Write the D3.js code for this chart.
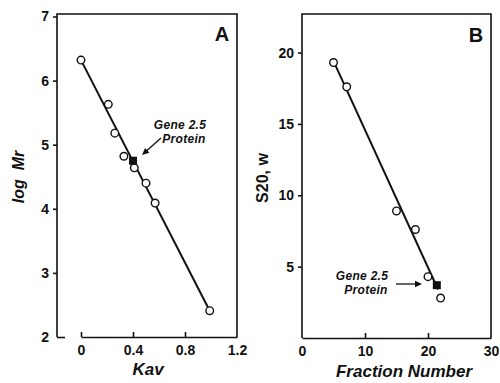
<!DOCTYPE html>
<html>
<head>
<meta charset="utf-8">
<script src="https://cdn.jsdelivr.net/npm/d3@7"></script>
<style>
  body { margin: 0; background: #fff; }
  svg { display: block; }
  text { font-family: "Liberation Sans", Arial, sans-serif; fill: #111; }
</style>
</head>
<body>
<div id="chart"></div>
<script>
// Panel A: gel filtration, log Mr vs Kav
const kavStandards = [0, 0.21, 0.26, 0.33, 0.41, 0.50, 0.57, 0.99];
const logMrStandards = [6.32, 5.63, 5.18, 4.82, 4.64, 4.40, 4.09, 2.41];
const kavProtein = [0.40];
const logMrProtein = [4.75];
const kavFit = [0, 0.99];
const logMrFit = [6.32, 2.41];
const kavTicks = [0, 0.4, 0.8, 1.2];
const kavTickLabels = ['0', '0.4', '0.8', '1.2'];
const logMrTicks = [2, 3, 4, 5, 6, 7];

// Panel B: sedimentation, S20,w vs fraction number
const fractionStandards = [5.0, 7.1, 15.0, 18.0, 20.0, 22.0];
const s20Standards = [19.3, 17.6, 8.9, 7.6, 4.3, 2.8];
const fractionProtein = [21.4];
const s20Protein = [3.7];
const fractionFit = [5.0, 21.6];
const s20Fit = [19.4, 3.4];
const fractionTicks = [0, 10, 20, 30];
const fractionTickLabels = ['0', '10', '20', '30'];
const s20Ticks = [5, 10, 15, 20];

const W = 500, H = 383;
const INK = '#111';

const svg = d3.select('#chart').append('svg')
  .attr('width', W)
  .attr('height', H);

function drawPanel(o) {
  let g = svg.append('g');
  let x = d3.scaleLinear().domain(o.xDomain).range(o.xRange);
  let y = d3.scaleLinear().domain(o.yDomain).range(o.yRange);

  // frame: left, top, right
  g.append('path')
    .attr('d', 'M' + o.box.left + ',' + o.box.bottom + 'V' + o.box.top + 'H' + o.box.right + 'V' + o.box.bottom)
    .attr('fill', 'none')
    .attr('stroke', INK)
    .attr('stroke-width', 1.6);

  // y axis ticks (outward)
  let yAxis = d3.axisLeft(y).tickValues(o.yTicks).tickSize(4).tickSizeOuter(0).tickPadding(4)
    .tickFormat(d3.format('d'));
  let ya = g.append('g')
    .attr('transform', 'translate(' + o.box.left + ',0)')
    .call(yAxis);
  ya.select('.domain').remove();
  ya.selectAll('line').attr('stroke', INK).attr('stroke-width', 1.6);
  ya.selectAll('text')
    .style('font-size', '14px')
    .style('font-weight', 'bold')
    .attr('fill', INK);
  if (o.innerStub != null) {
    ya.selectAll('.tick').filter(d => d === o.innerStub).select('line')
      .attr('x2', 8);
  }

  // x axis (ticks inward)
  let xAxis = d3.axisBottom(x).tickValues(o.xTicks).tickSize(-5).tickSizeOuter(0).tickPadding(8)
    .tickFormat((d, i) => o.xLabels[i]);
  let xa = g.append('g')
    .attr('transform', 'translate(0,' + o.box.bottom + ')')
    .call(xAxis);
  xa.select('.domain').attr('stroke', INK).attr('stroke-width', 1.6);
  xa.selectAll('line').attr('stroke', INK).attr('stroke-width', 1.6);
  xa.selectAll('.tick').filter(d => d === o.xTicks[o.xTicks.length - 1] || (o.hideFirstTick && d === o.xTicks[0]))
    .select('line').remove();
  xa.selectAll('text')
    .style('font-size', '14px')
    .style('font-weight', 'bold')
    .attr('fill', INK);

  // fitted line
  let line = d3.line().x(d => x(d[0])).y(d => y(d[1]));
  g.append('path')
    .datum(d3.zip(o.fitX, o.fitY))
    .attr('d', line)
    .attr('fill', 'none')
    .attr('stroke', INK)
    .attr('stroke-width', 2);

  // standards: open circles
  g.selectAll('.std')
    .data(d3.zip(o.ptsX, o.ptsY))
    .enter().append('circle')
    .attr('class', 'std')
    .attr('cx', d => x(d[0]))
    .attr('cy', d => y(d[1]))
    .attr('r', 3.8)
    .attr('fill', '#fff')
    .attr('stroke', INK)
    .attr('stroke-width', 1.4);

  // protein: filled square
  g.selectAll('.prot')
    .data(d3.zip(o.protX, o.protY))
    .enter().append('rect')
    .attr('class', 'prot')
    .attr('x', d => x(d[0]) - 4)
    .attr('y', d => y(d[1]) - 4)
    .attr('width', 8)
    .attr('height', 8)
    .attr('fill', INK);

  // panel letter
  g.append('text')
    .attr('x', o.letter[0]).attr('y', o.letter[1])
    .attr('text-anchor', 'middle')
    .style('font-size', '20px')
    .style('font-weight', 'bold')
    .text(o.letter[2]);

  // axis titles
  g.append('text')
    .attr('x', o.xTitle[0]).attr('y', o.xTitle[1])
    .attr('text-anchor', 'middle')
    .style('font-size', '17px')
    .style('font-style', 'italic')
    .style('font-weight', 'bold')
    .text(o.xTitle[2]);

  g.append('text')
    .attr('transform', 'translate(' + o.yTitle[0] + ',' + o.yTitle[1] + ') rotate(-90)')
    .attr('text-anchor', 'middle')
    .style('font-size', '16px')
    .style('font-style', o.yTitle[3])
    .style('font-weight', 'bold')
    .style('white-space', 'pre')
    .text(o.yTitle[2]);

  // annotation
  let a = g.append('text')
    .attr('text-anchor', 'middle')
    .style('font-size', '12px')
    .style('font-style', 'italic')
    .style('font-weight', 'bold')
    .style('letter-spacing', '0.3px');
  a.append('tspan').attr('x', o.note[0]).attr('y', o.note[1]).text('Gene 2.5');
  a.append('tspan').attr('x', o.note[0] + 4).attr('y', o.note[1] + 14).text('Protein');

  let ar = o.arrow;
  let ang = Math.atan2(ar[3] - ar[1], ar[2] - ar[0]);
  g.append('line')
    .attr('x1', ar[0]).attr('y1', ar[1])
    .attr('x2', ar[2] - 4 * Math.cos(ang)).attr('y2', ar[3] - 4 * Math.sin(ang))
    .attr('stroke', INK).attr('stroke-width', 1.3);
  let hl = 7, hw = 3.2;
  let bx = ar[2] - hl * Math.cos(ang), by = ar[3] - hl * Math.sin(ang);
  g.append('path')
    .attr('d', 'M' + ar[2] + ',' + ar[3] +
      'L' + (bx - hw * Math.sin(ang)) + ',' + (by + hw * Math.cos(ang)) +
      'L' + (bx + hw * Math.sin(ang)) + ',' + (by - hw * Math.cos(ang)) + 'Z')
    .attr('fill', INK);
}

drawPanel({
  xDomain: [0, 1.2], xRange: [81, 237],
  yDomain: [2, 7], yRange: [337, 16.5],
  box: {left: 57, top: 14, right: 237, bottom: 337},
  xTicks: kavTicks, xLabels: kavTickLabels, yTicks: logMrTicks,
  innerStub: 2, hideFirstTick: false,
  fitX: kavFit, fitY: logMrFit,
  ptsX: kavStandards, ptsY: logMrStandards,
  protX: kavProtein, protY: logMrProtein,
  letter: [222, 41, 'A'],
  xTitle: [148, 375, 'Kav'],
  yTitle: [24, 177, 'log  Mr', 'italic'],
  note: [180, 129],
  arrow: [161, 138, 142, 155]
});

drawPanel({
  xDomain: [0, 30], xRange: [302, 491],
  yDomain: [0, 22.7], yRange: [338, 14],
  box: {left: 302, top: 14, right: 491, bottom: 338},
  xTicks: fractionTicks, xLabels: fractionTickLabels, yTicks: s20Ticks,
  innerStub: null, hideFirstTick: true,
  fitX: fractionFit, fitY: s20Fit,
  ptsX: fractionStandards, ptsY: s20Standards,
  protX: fractionProtein, protY: s20Protein,
  letter: [476, 42, 'B'],
  xTitle: [404, 377, 'Fraction Number'],
  yTitle: [268, 178, 'S20, w', 'normal'],
  note: [362, 280],
  arrow: [396, 284, 422, 284]
});
</script>
</body>
</html>
